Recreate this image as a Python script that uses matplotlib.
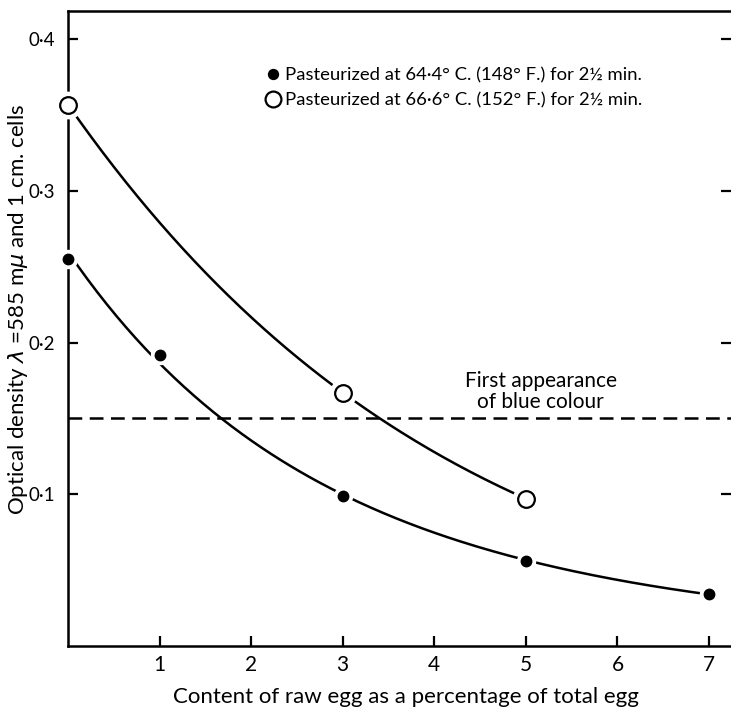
import numpy as np
import matplotlib
matplotlib.use("Agg")
import matplotlib.pyplot as plt
from matplotlib.ticker import FuncFormatter

plt.rcParams['font.family'] = ['Lato', 'DejaVu Sans']

# data
x_low = [0, 1, 3, 5, 7]
y_low = [0.255, 0.192, 0.099, 0.056, 0.034]   # 64.4 C, filled
x_high = [0, 3, 5]
y_high = [0.357, 0.167, 0.097]                 # 66.6 C, open
threshold = 0.15

xticks = [1, 2, 3, 4, 5, 6, 7]
yticks = [0.1, 0.2, 0.3, 0.4]

fig = plt.figure(figsize=(7.31, 7.08), dpi=100)
ax = fig.add_axes([0.093, 0.088, 0.907, 0.897])


def smooth(xs, ys, deg):
    # smooth curve through the points, fitted in log space
    c = np.polyfit(xs, np.log(ys), deg)
    xx = np.linspace(min(xs), max(xs), 200)
    return xx, np.exp(np.polyval(c, xx))


xx, yy = smooth(x_low, y_low, 2)
ax.plot(xx, yy, color='black', lw=1.8, zorder=2)
xx, yy = smooth(x_high, y_high, 2)
ax.plot(xx, yy, color='black', lw=1.8, zorder=2)

ax.axhline(threshold, color='black', lw=1.8, dashes=(5.5, 3), zorder=1)

# white halos make the small breaks around the markers
ax.plot(x_low, y_low, 'o', ms=13, color='white', zorder=3, clip_on=False)
ax.plot(x_high, y_high, 'o', ms=19, color='white', zorder=3, clip_on=False)
ax.plot(x_low, y_low, 'o', ms=7.5, color='black', zorder=4, clip_on=False,
        label='Pasteurized at 64·4° C. (148° F.) for 2½ min.')
ax.plot(x_high, y_high, 'o', ms=12, mfc='white', mec='black', mew=1.6,
        zorder=4, clip_on=False,
        label='Pasteurized at 66·6° C. (152° F.) for 2½ min.')

ax.text(5.16, 0.154, 'First appearance\nof blue colour', ha='center',
        va='bottom', fontsize=15, linespacing=1.05)

ax.set_xlim(0, 7.24)
ax.set_ylim(0, 0.419)
ax.set_xticks(xticks)
ax.set_yticks(yticks)
ax.yaxis.set_major_formatter(FuncFormatter(lambda v, p: f'{v:.1f}'.replace('.', '·')))
ax.tick_params(direction='in', length=7, width=1.6, colors='black')
ax.tick_params(axis='y', right=True, pad=9, labelsize=13.5)
ax.tick_params(axis='x', pad=7, labelsize=15)

for s in ['left', 'bottom', 'top']:
    ax.spines[s].set_linewidth(1.8)
ax.spines['right'].set_visible(False)

ax.set_xlabel('Content of raw egg as a percentage of total egg', fontsize=16)
ax.set_ylabel('Optical density $\\lambda$ =585 m$\\mu$ and 1 cm. cells', fontsize=16)
ax.xaxis.set_label_coords(0.51, -0.065)
ax.yaxis.set_label_coords(-0.058, 0.53)

ax.legend(loc='upper right', bbox_to_anchor=(0.88, 0.926), frameon=False,
          fontsize=13.3, handletextpad=0.15, handlelength=1.0, labelspacing=0.5,
          borderpad=0, markerscale=0.95)

fig.savefig('out.png', dpi=100)
